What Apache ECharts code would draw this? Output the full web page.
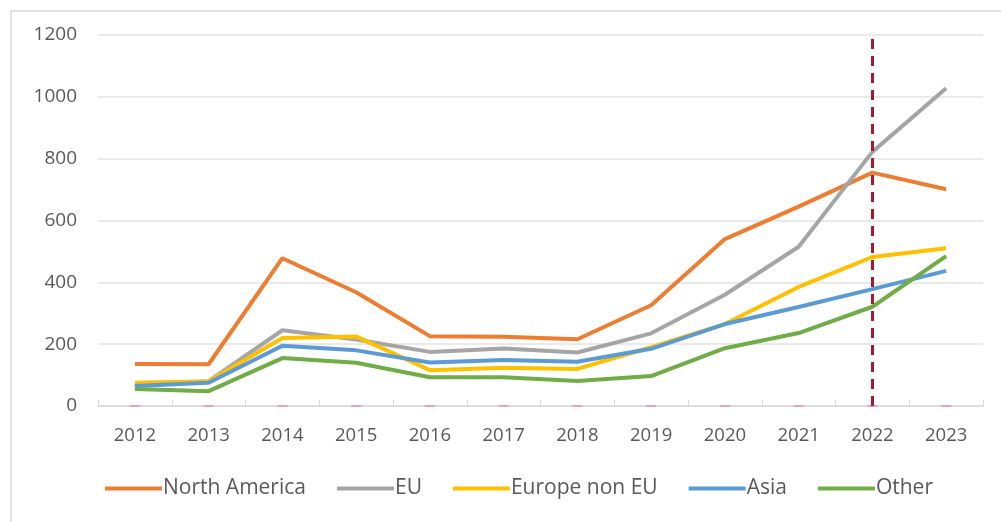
<!DOCTYPE html>
<html><head><meta charset="utf-8">
<script src="https://cdn.jsdelivr.net/npm/echarts@6/dist/echarts.min.js"></script>
<style>html,body{margin:0;padding:0;background:#fff}#c{width:1001px;height:522px}</style>
</head><body><div id="c"></div>
<script>
const years = ['2012','2013','2014','2015','2016','2017','2018','2019','2020','2021','2022','2023'];
const northAmerica = [136,135,478,368,226,224,216,326,540,645,755,701];
const eu = [65,80,245,215,175,186,173,235,360,515,822,1028];
const europeNonEu = [75,80,220,225,116,124,120,190,265,385,482,510];
const asia = [65,75,195,180,141,149,143,185,265,320,378,437];
const other = [55,48,155,140,93,93,81,97,187,236,321,485];
const zeroMarks = [0,0,0,0,0,0,0,0,0,0,0,0];
const markYear = '2022';

const chart = echarts.init(document.getElementById('c'));
const font = 'Open Sans';
function line(name, data, color) {
  return {name, type:'line', data, symbol:'none', smooth:false,
    lineStyle:{width:4, color}, itemStyle:{color}};
}
const s1 = line('North America', northAmerica, '#ED7D31');
s1.markLine = {silent:true, symbol:'none', label:{show:false},
  lineStyle:{color:'#A6192E', type:[10,7], width:3}, data:[{xAxis: markYear}]};
chart.setOption({
  animation:false,
  textStyle:{fontFamily:font},
  graphic:[{type:'rect', shape:{x:11,y:11,width:1001,height:520}, style:{fill:'none', stroke:'#d9d9d9', lineWidth:1.5}}],
  grid:{left:98, right:18, top:35, bottom:116},
  legend:{bottom:18, left:100, itemWidth:57, itemHeight:4, itemGap:31, icon:'rect',
    textStyle:{color:'#595959', fontSize:21, fontFamily:font, padding:[0,0,0,-4]},
    data:['North America','EU','Europe non EU','Asia','Other']},
  xAxis:{type:'category', data:years, boundaryGap:true,
    axisLine:{lineStyle:{color:'#d9d9d9', width:1.5}},
    axisTick:{show:true, inside:true, length:6, lineStyle:{color:'#d9d9d9'}},
    axisLabel:{color:'#595959', fontSize:18.5, margin:20}},
  yAxis:{type:'value', min:0, max:1200, interval:200,
    axisLine:{show:false}, axisTick:{show:false},
    splitLine:{lineStyle:{color:'#e3e3e3', width:1.5}},
    axisLabel:{color:'#595959', fontSize:19, margin:21, formatter:v=>String(v)}},
  series:[
    s1,
    line('EU', eu, '#A5A5A5'),
    line('Europe non EU', europeNonEu, '#FFC000'),
    line('Asia', asia, '#5B9BD5'),
    line('Other', other, '#70AD47'),
    {type:'scatter', data:zeroMarks, symbol:'rect', symbolSize:[10,2], silent:true,
      itemStyle:{color:'#E39AAE'}, z:1}
  ]
});
</script></body></html>
